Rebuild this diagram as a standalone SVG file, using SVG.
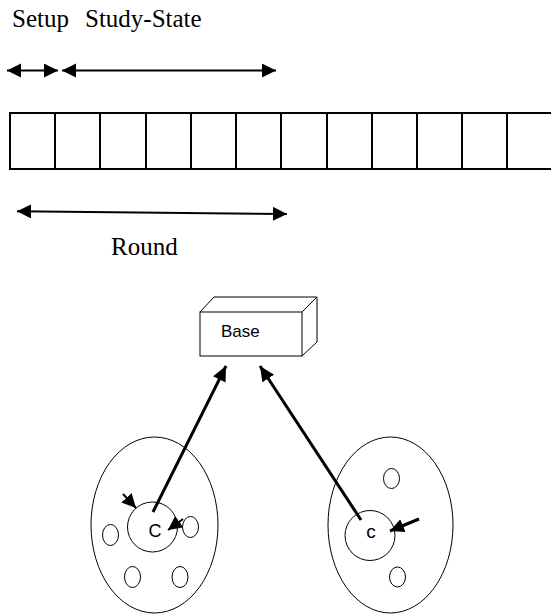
<svg xmlns="http://www.w3.org/2000/svg" width="551" height="615" viewBox="0 0 551 615">
<style>
.serif{font-family:"Liberation Serif","Times New Roman",serif;fill:#000}
.sans{font-family:"Liberation Sans",Arial,sans-serif;fill:#000}
.thin{fill:none;stroke:#000;stroke-width:1}
.cell{fill:none;stroke:#000;stroke-width:2}
.arr{fill:none;stroke:#000;stroke-width:2}
.arr3{fill:none;stroke:#000;stroke-width:3}
</style>
<defs>
<marker id="ah" markerUnits="userSpaceOnUse" markerWidth="16" markerHeight="16" refX="14" refY="7" orient="auto-start-reverse" viewBox="0 0 16 16">
<path d="M0,0 L14,7 L0,14 z" fill="#000"/>
</marker>
<marker id="ahb" markerUnits="userSpaceOnUse" markerWidth="18" markerHeight="18" refX="15" refY="7" orient="auto" viewBox="0 0 18 18">
<path d="M0,0 L15,7 L0,14 z" fill="#000"/>
</marker>
<marker id="ahs" markerUnits="userSpaceOnUse" markerWidth="16" markerHeight="16" refX="14" refY="7" orient="auto" viewBox="0 0 16 16">
<path d="M0,0 L14,7 L0,14 z" fill="#000"/>
</marker>
</defs>

<g id="timeline-labels">
<text class="serif" x="12" y="27" font-size="25">Setup</text>
<text class="serif" x="85" y="27" font-size="25">Study-State</text>
</g>

<g id="strip">
<line class="cell" x1="10" y1="113" x2="551" y2="113"/>
<line class="cell" x1="10" y1="169" x2="551" y2="169"/>
<line class="cell" x1="10" y1="112" x2="10" y2="170"/>
<line class="cell" x1="55" y1="113" x2="55" y2="169"/>
<line class="cell" x1="100" y1="113" x2="100" y2="169"/>
<line class="cell" x1="146" y1="113" x2="146" y2="169"/>
<line class="cell" x1="191" y1="113" x2="191" y2="169"/>
<line class="cell" x1="236" y1="113" x2="236" y2="169"/>
<line class="cell" x1="281" y1="113" x2="281" y2="169"/>
<line class="cell" x1="327" y1="113" x2="327" y2="169"/>
<line class="cell" x1="372" y1="113" x2="372" y2="169"/>
<line class="cell" x1="417" y1="113" x2="417" y2="169"/>
<line class="cell" x1="462" y1="113" x2="462" y2="169"/>
<line class="cell" x1="507" y1="113" x2="507" y2="169"/>
</g>

<g id="round-label">
<text class="serif" x="111" y="255" font-size="25">Round</text>
</g>

<g id="base">
<rect class="thin" x="200" y="312" width="102" height="44"/>
<path class="thin" d="M200,312 L214,297 L317,297 L302,312 M302,356 L317,342 L317,297"/>
<text class="sans" x="221" y="337" font-size="17">Base</text>
</g>

<g id="cluster-left">
<ellipse class="thin" cx="154.5" cy="525" rx="63.5" ry="88"/>
<circle class="thin" cx="152.5" cy="527" r="25"/>
<text class="sans" x="155" y="537" font-size="18" text-anchor="middle">C</text>
<ellipse class="thin" cx="110.5" cy="535" rx="8" ry="10.5"/>
<ellipse class="thin" cx="190.5" cy="527" rx="8" ry="10.5"/>
<ellipse class="thin" cx="132.5" cy="577" rx="8" ry="10.5"/>
<ellipse class="thin" cx="180" cy="577" rx="8" ry="10.5"/>
</g>

<g id="cluster-right">
<ellipse class="thin" cx="390.5" cy="525" rx="62.5" ry="88"/>
<circle class="thin" cx="370" cy="535.5" r="25"/>
<text class="sans" x="371" y="538" font-size="19" text-anchor="middle">c</text>
<ellipse class="thin" cx="391.5" cy="478.5" rx="8" ry="10"/>
<ellipse class="thin" cx="397.5" cy="577" rx="8" ry="10"/>
</g>

<g id="connectors">
<line class="arr" x1="7" y1="70.5" x2="58" y2="70.5" marker-start="url(#ah)" marker-end="url(#ah)"/>
<line class="arr" x1="62" y1="70.5" x2="276" y2="70.5" marker-start="url(#ah)" marker-end="url(#ah)"/>
<line class="arr" x1="17" y1="211.3" x2="287" y2="214" marker-start="url(#ah)" marker-end="url(#ah)"/>
<line class="arr3" x1="153" y1="512" x2="226" y2="366" marker-end="url(#ahb)"/>
<line class="arr3" x1="361" y1="520" x2="260" y2="366" marker-end="url(#ahb)"/>
<line class="arr" x1="123" y1="494" x2="136" y2="508" marker-end="url(#ahs)"/>
<line class="arr" x1="183" y1="519" x2="168" y2="530" marker-end="url(#ahs)"/>
<line class="arr3" x1="419" y1="519" x2="390" y2="531" marker-end="url(#ahs)"/>
</g>
</svg>
